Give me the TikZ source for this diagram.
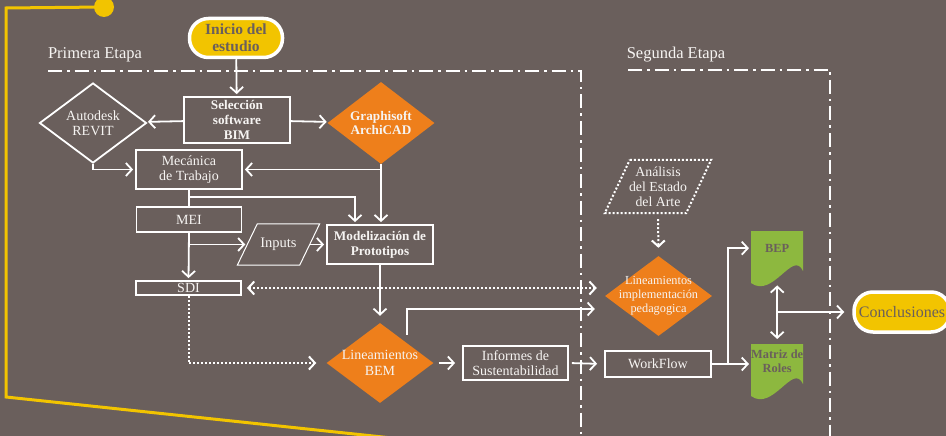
\documentclass[tikz,border=0pt]{standalone}
\usepackage{fontspec}
\setmainfont{Liberation Serif}
\usepackage{tikz}
\usetikzlibrary{arrows.meta,positioning,calc,shapes.geometric}
\definecolor{bgtaupe}{RGB}{106,95,92}
\definecolor{bimyel}{RGB}{242,196,0}
\definecolor{bimorg}{RGB}{238,127,27}
\definecolor{bimgrn}{RGB}{141,184,63}
\definecolor{txtw}{RGB}{246,244,242}
\newcommand{\plgram}[3]{\draw[#3] ($(#1.north west)+(#2,0)$) -- ($(#1.north east)+(#2,0)$)
  -- ($(#1.south east)+(-#2,0)$) -- ($(#1.south west)+(-#2,0)$) -- cycle;}
\newcommand{\docfill}[1]{\fill[bimgrn] (#1) -- ++(52,0) -- ++(0,40)
  .. controls +(-10,-22) and +(22,16) .. ++(-52,12) -- cycle;}

\begin{document}
\begin{tikzpicture}[x=1pt,y=-1pt,
  every node/.style={font=\fontsize{14}{15.5}\selectfont,text=txtw,align=center},
  bx/.style={draw=white,line width=1.8pt,inner sep=1pt},
  bb/.style={font=\bfseries\fontsize{13.2}{14.7}\selectfont},
  dm/.style={diamond,inner sep=0pt,minimum width=107pt,minimum height=80pt},
  stad/.style={draw=white,line width=3.5pt,fill=bimyel,rounded corners=19pt,
    text=bgtaupe,inner sep=1pt},
  doc/.style={minimum width=52pt,minimum height=34pt,inner sep=0pt,text=bgtaupe,
    font=\bfseries\fontsize{12.4}{13.5}\selectfont},
  arr/.style={draw=white,line width=1.8pt,shorten >=2pt,-{Straight Barb[length=6pt,width=13pt]}},
  dts/.style={draw=white,line width=2pt,dash pattern=on 2pt off 2pt},
  etapa/.style={draw=white,line width=2.4pt,dash pattern=on 14pt off 5pt on 2.5pt off 5pt},
  yel/.style={draw=bimyel,line width=3pt}]
\useasboundingbox (0,0) rectangle (946,436);
\clip (0,0) rectangle (946,436);
\fill[bgtaupe] (0,0) rectangle (946,436);

\node[circle,fill=bimyel,minimum size=20pt,inner sep=0pt] (dot) at (104,7) {};
\draw[yel] (dot.center) -- (6,8) -- (6,397) -- (392,438);

\node[font=\fontsize{16.5}{18}\selectfont] (p1) at (95,55) {Primera Etapa};
\node[font=\fontsize{16.5}{18}\selectfont] (p2) at (676,55) {Segunda Etapa};
\draw[etapa] (48,71) -- (581,71) -- (581,440);
\draw[etapa] (628,70) -- (830,70) -- (830,440);

\node[stad,minimum width=93pt,minimum height=39pt,
  font=\bfseries\fontsize{15.5}{17}\selectfont] (ini) at (236,38) {Inicio del\\estudio};
\node[bx,bb,minimum width=106pt,minimum height=46pt] (sel) at (237,120) {Selección\\software\\BIM};
\node[dm,draw=white,line width=1.8pt,label={center:Autodesk\\REVIT}] (rev) at (93,123) {};
\node[dm,fill=bimorg,minimum height=82pt,
  label={[bb]center:Graphisoft\\ArchiCAD}] (arc) at (381,123) {};
\node[bx,minimum width=106pt,minimum height=39pt] (mec) at (189,169.5) {Mecánica\\de Trabajo};
\node[bx,minimum width=105pt,minimum height=25pt] (mei) at (189,219.5) {MEI};
\node[bx,minimum width=105pt,minimum height=14pt,inner ysep=0pt] (sdi) at (188.5,288) {SDI};
\node[minimum width=62pt,minimum height=41pt,inner sep=0pt,
  font=\fontsize{14.5}{16}\selectfont] (inp) at (278.5,244.5) {Inputs};
\plgram{inp}{10}{white,line width=1pt}
\node[bx,bb,minimum width=106pt,minimum height=39pt] (mod) at (380,244.5) {Modelización de\\Prototipos};
\node[dm,fill=bimorg,label={center:Lineamientos\\BEM}] (bem) at (380,363) {};
\node[bx,minimum width=105pt,minimum height=34pt] (inf) at (515.5,363) {Informes de\\Sustentabilidad};

\node[minimum width=81pt,minimum height=53pt,inner sep=0pt,
  font=\fontsize{13.8}{15}\selectfont] (ana) at (658,186.5) {Análisis\\del Estado\\del Arte};
\plgram{ana}{12.5}{dts}
\node[dm,fill=bimorg,label={[font=\fontsize{12.3}{14}\selectfont]center:Lineamientos\\implementación\\pedagogica}] (lip) at (658.5,296) {};
\node[bx,minimum width=106pt,minimum height=26pt] (wf) at (658,364) {WorkFlow};

\coordinate (bepnw) at (751,231);
\coordinate (matnw) at (751,344);
\docfill{bepnw}
\docfill{matnw}
\node[doc,anchor=north west] (bep) at (bepnw) {BEP};
\node[doc,anchor=north west] (mat) at (matnw) {Matriz de\\Roles};
\node[stad,minimum width=96pt,minimum height=40pt,
  font=\fontsize{16}{18}\selectfont] (con) at (902,312) {Conclusiones};

\draw[arr] (ini) -- (sel);
\draw[arr] (sel) -- (rev);
\draw[arr] (sel) -- (arc);
\draw[arr] (rev.south) |- (mec.west);
\draw[arr] (arc.south) |- (mec.east);
\draw[arr] (arc.south) -- (arc.south |- mod.north);
\draw[draw=white,line width=1.8pt] (mec.south) -- (mei.north);
\draw[arr] ($(mec.south)+(0,7)$) -| ([xshift=-25pt]mod.north);
\draw[arr] (mei.south) -- (sdi.north);
\draw[arr] (mei.south |- inp.west) -- (inp.west);
\draw[arr] (inp.east) -- (mod.west);
\draw[arr,shorten >=7pt] (mod.south) -- (bem.north);
\draw[dts,shorten <=5pt,{Straight Barb[length=6pt,width=13pt]}-{Straight Barb[length=6pt,width=13pt]}]
  (sdi.east) -- ($(lip.west |- sdi.east)+(-8,0)$);
\draw[dts,shorten >=10pt,-{Straight Barb[length=6pt,width=13pt]}] (sdi.south) |- (bem.west);
\draw[arr] ([yshift=8pt]bem.north east) |- ($(lip.west)+(-8,13)$);
\draw[arr,shorten <=5pt,shorten >=7pt] (bem.east) -- (inf.west);
\draw[arr,shorten <=3pt,shorten >=7pt] (inf.east) -- (wf.west);
\draw[dts,shorten <=6pt,shorten >=8pt,-{Straight Barb[length=6pt,width=13pt]}] (ana.south) -- (lip.north);
\coordinate (wfj) at ($(wf.east)+(16,0)$);
\draw[arr] (wf.east) -- (wfj) |- (bep.west);
\draw[arr] (wfj) -- (mat.west |- wfj);
\draw[draw=white,line width=1.8pt,{Straight Barb[length=6pt,width=13pt]}-{Straight Barb[length=6pt,width=13pt]}]
  ($(bep.south)+(0,20)$) -- ($(mat.north)+(0,-5)$);
\draw[arr,shorten >=8pt] (bep.south |- con.west) -- (con.west);
\end{tikzpicture}
\end{document}
